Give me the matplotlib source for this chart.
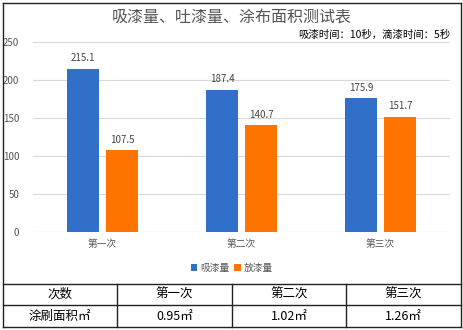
import numpy as np
import matplotlib
matplotlib.use("Agg")
import matplotlib.pyplot as plt
from matplotlib.lines import Line2D

plt.rcParams['font.family'] = ['Noto Sans CJK SC', 'DejaVu Sans']

# 数据
categories = ["第一次", "第二次", "第三次"]
xi_qi = [215.1, 187.4, 175.9]      # 吸漆量
fang_qi = [107.5, 140.7, 151.7]    # 放漆量
series_names = ["吸漆量", "放漆量"]
table_header = ["次数", "第一次", "第二次", "第三次"]
table_row = ["涂刷面积㎡", "0.95㎡", "1.02㎡", "1.26㎡"]

W, H = 464, 330
fig = plt.figure(figsize=(W / 100, H / 100), dpi=100)


def fx(px):
    return px / W


def fy(py):
    return 1 - py / H


# 柱状图区域
ax = fig.add_axes([fx(33), fy(232), fx(450) - fx(33), fy(42) - fy(232)])
x = np.arange(len(categories))
w = 0.23
c_blue = "#3170c8"
c_orange = "#ff7300"
b1 = ax.bar(x - 0.14, xi_qi, w, color=c_blue, label=series_names[0], zorder=3)
b2 = ax.bar(x + 0.14, fang_qi, w, color=c_orange, label=series_names[1], zorder=3)
for bars, vals in ((b1, xi_qi), (b2, fang_qi)):
    for b, v in zip(bars, vals):
        ax.text(b.get_x() + b.get_width() / 2, v + 7, f"{v:.1f}",
                ha="center", va="bottom", fontsize=7, color="#444444")

ax.set_xlim(-0.5, 2.5)
ax.set_ylim(0, 250)
ax.set_yticks(range(0, 251, 50))
ax.set_xticks(x)
ax.set_xticklabels(categories)
ax.tick_params(axis="both", length=0, labelsize=7, colors="#555555")
ax.tick_params(axis="y", pad=10)
ax.tick_params(axis="x", pad=5)
ax.grid(axis="y", color="#d9d9d9", linewidth=0.8, zorder=0)
for s in ax.spines.values():
    s.set_visible(False)
ax.axhline(0, color="#d9d9d9", linewidth=0.8, zorder=1)

fig.text(fx(232), fy(17), "吸漆量、吐漆量、涂布面积测试表", ha="center", va="center",
         fontsize=11.5, color="#555555")
fig.text(fx(450), fy(35), "吸漆时间：10秒，滴漆时间：5秒", ha="right", va="center",
         fontsize=7.5, color="#000000")

fig.legend(handles=[b1, b2], loc="center", bbox_to_anchor=(fx(232), fy(268)),
           ncol=2, frameon=False, fontsize=7, handlelength=0.7, handleheight=0.7,
           handletextpad=0.3, columnspacing=0.5, labelcolor="#555555")

# 外框与表格线
def hline(py, x0=3, x1=461, lw=1.0):
    fig.add_artist(Line2D([fx(x0), fx(x1)], [fy(py), fy(py)], color="#222222", lw=lw))


def vline(px, y0, y1, lw=1.0):
    fig.add_artist(Line2D([fx(px), fx(px)], [fy(y0), fy(y1)], color="#222222", lw=lw))


hline(3)
hline(284)
hline(305)
hline(327)
vline(3, 3, 327)
vline(461, 3, 327)
col_edges = [3, 117, 232, 346, 461]
for px in col_edges[1:-1]:
    vline(px, 284, 327)

for i in range(4):
    cx = (col_edges[i] + col_edges[i + 1]) / 2
    fig.text(fx(cx), fy(294.5), table_header[i], ha="center", va="center",
             fontsize=9, color="#000000")
    fig.text(fx(cx), fy(316), table_row[i], ha="center", va="center",
             fontsize=9, color="#000000")

fig.savefig("out.png", dpi=100)
